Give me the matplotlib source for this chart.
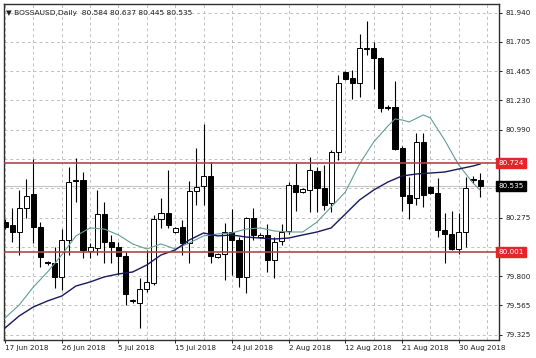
import matplotlib
matplotlib.use("Agg")
import matplotlib.pyplot as plt
import numpy as np

# daily candles, 17 Jun 2018 .. 3 Sep 2018 (Sunday bars included)
opens = [80.242, 80.218, 80.161, 80.356, 80.470, 80.202, 79.917, 79.909, 79.796, 80.096,
         80.584, 80.584, 80.007, 80.031, 80.307, 80.080, 80.039, 79.966, 79.609, 79.584,
         79.698, 79.747, 80.267, 80.315, 80.161, 80.202, 80.072, 80.494, 80.535, 80.616,
         79.958, 79.982, 80.161, 80.096, 79.796, 80.275, 80.120, 80.137, 79.934, 80.088,
         80.169, 80.543, 80.486, 80.502, 80.657, 80.518, 80.397, 80.811, 81.461, 81.412,
         81.371, 81.656, 81.656, 81.574, 81.176, 81.176, 80.843, 80.462, 80.437, 80.892,
         80.527, 80.478, 80.177, 80.145, 80.023, 80.161, 80.592, 80.584]
highs = [80.267, 80.356, 80.502, 80.592, 80.754, 80.242, 79.925, 80.039, 80.185, 80.689,
         80.762, 80.648, 80.072, 80.502, 80.405, 80.137, 80.080, 79.999, 79.617, 79.787,
         80.015, 80.299, 80.437, 80.665, 80.202, 80.259, 80.575, 80.843, 81.038, 80.730,
         79.990, 80.234, 80.348, 80.120, 80.283, 80.356, 80.153, 80.226, 80.120, 80.226,
         80.567, 80.722, 80.518, 80.770, 80.689, 80.705, 80.827, 81.436, 81.469, 81.477,
         81.769, 81.875, 81.704, 81.583, 81.193, 81.388, 80.860, 80.608, 80.965, 80.965,
         80.535, 80.600, 80.315, 80.332, 80.315, 80.608, 80.616, 80.637]
lows = [80.185, 80.080, 79.974, 80.275, 80.072, 79.877, 79.893, 79.706, 79.690, 79.974,
        80.405, 79.950, 79.950, 79.974, 79.909, 79.909, 79.812, 79.568, 79.584, 79.381,
        79.674, 79.730, 80.194, 80.194, 80.153, 79.974, 79.909, 80.380, 80.380, 79.909,
        79.950, 79.771, 79.812, 79.714, 79.666, 80.096, 80.112, 79.836, 79.787, 80.055,
        80.145, 80.332, 80.478, 80.324, 80.324, 80.340, 80.324, 80.746, 81.396, 81.241,
        81.258, 81.599, 81.323, 81.136, 81.152, 80.827, 80.332, 80.267, 80.380, 80.364,
        80.470, 80.120, 79.909, 80.015, 79.982, 80.039, 80.559, 80.445]
closes = [80.202, 80.161, 80.356, 80.454, 80.202, 79.958, 79.909, 79.796, 80.096, 80.567,
          80.575, 80.015, 80.039, 80.307, 80.080, 80.039, 79.966, 79.657, 79.601, 79.698,
          79.755, 80.267, 80.315, 80.218, 80.194, 80.072, 80.494, 80.527, 80.616, 79.966,
          79.982, 80.161, 80.096, 79.796, 80.275, 80.137, 80.137, 79.934, 80.080, 80.161,
          80.543, 80.486, 80.510, 80.665, 80.518, 80.380, 80.811, 81.371, 81.404, 81.371,
          81.656, 81.648, 81.574, 81.168, 81.168, 80.835, 80.454, 80.397, 80.892, 80.462,
          80.478, 80.177, 80.145, 80.023, 80.161, 80.518, 80.584, 80.535]

# moving averages (bar index, price)
fast_idx = [0, 2, 4, 6, 8, 10, 12, 14, 16, 18, 20, 22, 24, 26, 28, 30, 32, 34, 36, 38,
            40, 42, 44, 46, 48, 50, 52, 54, 55, 56, 57, 59, 60, 62, 64, 66, 67]
fast_ma = [79.462, 79.568, 79.714, 79.836, 79.974, 80.129, 80.194, 80.185, 80.137, 80.064,
           80.023, 80.064, 80.023, 80.072, 80.129, 80.145, 80.153, 80.185, 80.194, 80.169,
           80.161, 80.161, 80.242, 80.364, 80.486, 80.713, 80.892, 81.022, 81.079, 81.071,
           81.055, 81.112, 81.087, 80.908, 80.705, 80.559, 80.502]
slow_idx = [0, 2, 4, 6, 8, 10, 12, 14, 16, 18, 20, 22, 24, 26, 28, 30, 32, 34, 36, 38,
            40, 42, 44, 46, 48, 50, 52, 54, 56, 58, 60, 62, 64, 66, 67]
slow_ma = [79.381, 79.479, 79.552, 79.601, 79.641, 79.722, 79.755, 79.796, 79.820, 79.836,
           79.893, 79.974, 80.015, 80.096, 80.153, 80.129, 80.137, 80.120, 80.112, 80.104,
           80.112, 80.137, 80.161, 80.194, 80.307, 80.421, 80.502, 80.567, 80.616, 80.632,
           80.640, 80.648, 80.673, 80.697, 80.713]

date_labels = ["17 Jun 2018", "26 Jun 2018", "5 Jul 2018", "15 Jul 2018", "24 Jul 2018",
               "2 Aug 2018", "12 Aug 2018", "21 Aug 2018", "30 Aug 2018"]
price_ticks = [79.325, 79.565, 79.800, 80.040, 80.275, 80.515, 80.755, 80.990,
               81.230, 81.465, 81.705, 81.940]
hidden_ticks = [80.040, 80.515, 80.755]   # covered by the coloured price boxes
levels = [80.724, 80.001]
bid = 80.535

W, H = 536, 358
fig = plt.figure(figsize=(W / 100, H / 100), dpi=100)
ax = fig.add_axes([3.5 / W, 1 - 339.5 / H, 495 / W, 336 / H])

n = len(opens)
x = np.arange(n)
o = np.array(opens)
c = np.array(closes)
up = c >= o
body_lo = np.minimum(o, c)
body_h = np.maximum(np.abs(c - o), 0.002)

ax.vlines(x, lows, highs, color="black", lw=0.8, zorder=3)
ax.bar(x, body_h, bottom=body_lo, width=0.72,
       color=np.where(up, "white", "black"), edgecolor="black", lw=0.7, zorder=4)

ax.plot(fast_idx, fast_ma, color="#5f9e94", lw=0.8, zorder=5)
ax.plot(slow_idx, slow_ma, color="#191960", lw=1.0, zorder=5)

for lv in levels:
    ax.axhline(lv, color="#b04848", lw=1.2, zorder=6)
ax.axhline(bid, color="#c4c4c4", lw=0.8, zorder=2)

ax.set_xlim(-0.21, 69.6)
ax.set_ylim(79.2877, 82.017)

# grid
ax.set_xticks(np.arange(4, 69, 4), minor=True)
ax.set_xticks(np.arange(0, 65, 8))
ax.set_xticklabels(date_labels, ha="left")
ax.set_yticks(price_ticks)
ax.set_yticklabels(["" if p in hidden_ticks else f"{p:.3f}" for p in price_ticks])
ax.yaxis.tick_right()
for axis_which in ["major", "minor"]:
    ax.grid(True, which=axis_which, axis="x", color="#c0c0c0", lw=0.7, ls=(0, (3, 3)), zorder=0)
ax.grid(True, axis="y", color="#c0c0c0", lw=0.7, ls=(0, (3, 3)), zorder=0)
ax.set_axisbelow(True)

ax.tick_params(axis="both", which="major", direction="out", length=2.5, width=0.7,
               labelsize=5.2, colors="#202020", pad=1.5)
ax.tick_params(axis="x", which="minor", length=0)
ax.tick_params(axis="y", pad=2.5)
for s in ax.spines.values():
    s.set_color("#303030")
    s.set_linewidth(1.0)

# price boxes on the right scale
def price_box(val, face):
    ax.text(1.0, val, f"{val:.3f}", transform=ax.get_yaxis_transform(),
            ha="left", va="center", fontsize=5.2, color="white", clip_on=False, zorder=20,
            bbox=dict(boxstyle="square,pad=0.3", facecolor=face, edgecolor=face))

price_box(levels[0], "#e3262b")
price_box(bid, "black")
price_box(levels[1], "#e3262b")

ax.text(0.006, 0.982, "\u25BC BOSSAUSD,Daily  80.584 80.637 80.445 80.535",
        transform=ax.transAxes, ha="left", va="top", fontsize=5.4, color="#202020", zorder=20)

fig.savefig("out.png", dpi=100)
